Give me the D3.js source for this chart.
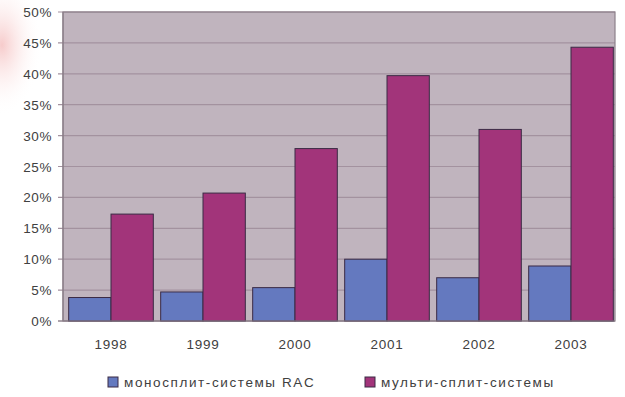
<!DOCTYPE html>
<html><head><meta charset="utf-8">
<script src="https://cdn.jsdelivr.net/npm/d3@7/dist/d3.min.js"></script>
<style>body{margin:0;background:#fff}svg{display:block}</style>
</head><body>
<svg id="c" width="625" height="397"></svg>
<script>
const years = ["1998","1999","2000","2001","2002","2003"];
const monoSplit = [3.8, 4.7, 5.4, 10.0, 7.0, 8.9];
const multiSplit = [17.3, 20.7, 27.9, 39.7, 31.0, 44.3];
const yTicks = [0,5,10,15,20,25,30,35,40,45,50];
const seriesNames = ["моносплит-системы RAC", "мульти-сплит-системы"];
const seriesColors = ["#6479bf", "#a2347a"];

const svg = d3.select("#c");
const L = 63, R = 615, T = 12, B = 321;

// decorative faint red blob top-left
const defs = svg.append("defs");
const rg = defs.append("radialGradient").attr("id","blob");
rg.append("stop").attr("offset","0%").attr("stop-color","#f3b5b5").attr("stop-opacity",0.7);
rg.append("stop").attr("offset","100%").attr("stop-color","#ffffff").attr("stop-opacity",0);
svg.append("ellipse").attr("cx",2).attr("cy",45).attr("rx",40).attr("ry",70).attr("fill","url(#blob)");

const x = d3.scaleBand().domain(years).range([L+2, R+2]).paddingInner(0.08).paddingOuter(0.04);
const xs = d3.scaleBand().domain([0,1]).range([0, x.bandwidth()]);
const y = d3.scaleLinear().domain([0, 50]).range([B, T]);

// plot background
svg.append("rect").attr("x",L).attr("y",T).attr("width",R-L).attr("height",B-T)
  .attr("fill","#c0b4be");

// gridlines + tick marks
svg.append("g").selectAll("line").data(yTicks).join("line")
  .attr("x1", L-5).attr("x2", R).attr("y1", d=>y(d)).attr("y2", d=>y(d))
  .attr("stroke","#a3929f").attr("stroke-width",1.2);

// frame
svg.append("rect").attr("x",L).attr("y",T).attr("width",R-L).attr("height",B-T)
  .attr("fill","none").attr("stroke","#8d808a").attr("stroke-width",1.2);

// bars
const data = years.map((yr,i)=>({yr, vals:[monoSplit[i], multiSplit[i]]}));
const g = svg.append("g").selectAll("g").data(data).join("g")
  .attr("transform", d=>`translate(${x(d.yr)},0)`);
g.selectAll("rect").data(d=>d.vals.map((v,k)=>({v,k}))).join("rect")
  .attr("x", d=>xs(d.k)).attr("width", xs.bandwidth())
  .attr("y", d=>y(d.v)).attr("height", d=>B - y(d.v))
  .attr("fill", d=>seriesColors[d.k]).attr("stroke","#3b2b45").attr("stroke-width",1);

// axis lines
svg.append("line").attr("x1",L).attr("x2",L).attr("y1",T).attr("y2",B).attr("stroke","#8a7e88").attr("stroke-width",1.2);
svg.append("line").attr("x1",L-5).attr("x2",R).attr("y1",B).attr("y2",B).attr("stroke","#8a7e88").attr("stroke-width",1.2);

// y labels
svg.append("g").selectAll("text").data(yTicks).join("text")
  .attr("x", 52).attr("y", d=>y(d)+5)
  .attr("text-anchor","end")
  .attr("font-family","Liberation Sans, Arial, sans-serif").attr("font-size",13.5)
  .attr("letter-spacing",0.6)
  .attr("fill","#404040")
  .text(d=>d+"%");

// x labels
svg.append("g").selectAll("text").data(years).join("text")
  .attr("x", d=>x(d)+x.bandwidth()/2).attr("y", 349)
  .attr("text-anchor","middle")
  .attr("font-family","Liberation Sans, Arial, sans-serif").attr("font-size",13.5)
  .attr("letter-spacing",0.8)
  .attr("fill","#404040")
  .text(d=>d);

// legend
const legX = [108, 365];
const lg = svg.append("g").selectAll("g").data(seriesNames).join("g")
  .attr("transform",(d,i)=>`translate(${legX[i]},377)`);
lg.append("rect").attr("width",10).attr("height",10)
  .attr("fill",(d,i)=>seriesColors[i]).attr("stroke","#3b2b45").attr("stroke-width",1);
lg.append("text").attr("x",16).attr("y",10)
  .attr("font-family","Liberation Sans, Arial, sans-serif").attr("font-size",13.5)
  .attr("letter-spacing",1.6)
  .attr("fill","#404040")
  .text(d=>d);
</script>
</body></html>
